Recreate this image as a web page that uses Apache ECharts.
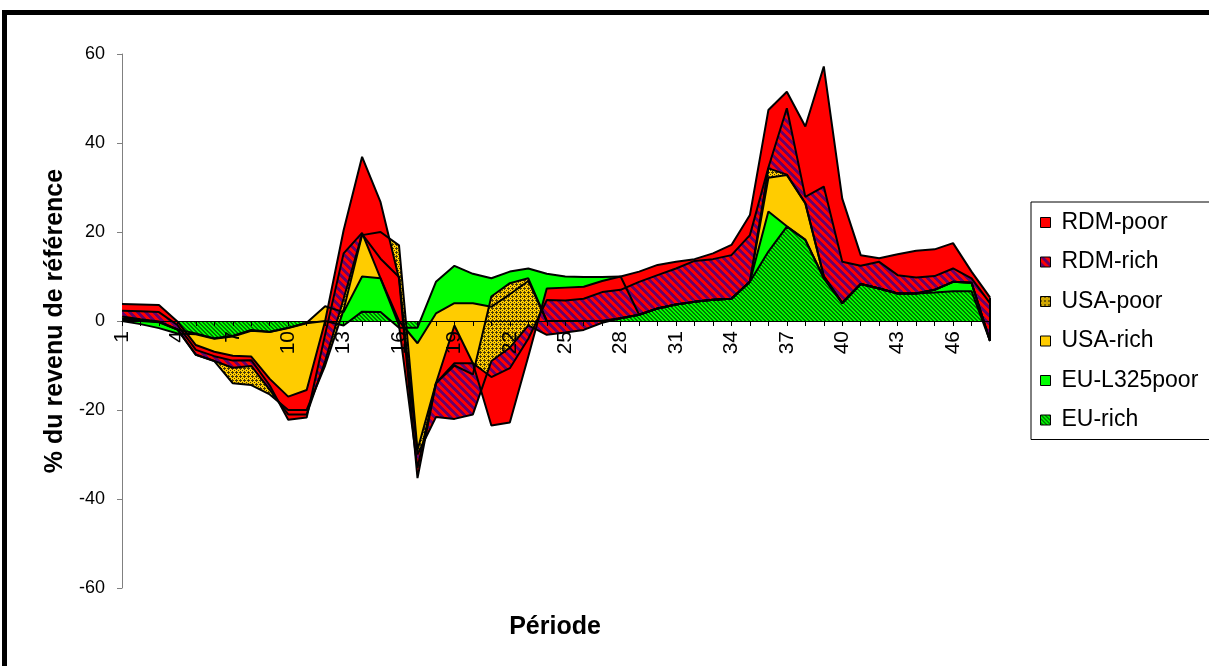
<!DOCTYPE html>
<html><head><meta charset="utf-8">
<script src="https://cdn.jsdelivr.net/npm/echarts@6/dist/echarts.min.js"></script>
<style>html,body{margin:0;padding:0;background:#fff}#c{width:1209px;height:666px}</style>
</head><body><div id="c"></div>
<script>
const categories = ['1','2','3','4','5','6','7','8','9','10','11','12','13','14','15','16','17','18','19','20','21','22','23','24','25','26','27','28','29','30','31','32','33','34','35','36','37','38','39','40','41','42','43','44','45','46','47','48'];
// Stacked series, bottom of stack first
const euRich = [0,-0.7,-1.6,-2.8,-3.0,-4.0,-3.5,-2.2,-2.5,-1.6,-0.5,0,-1,2.1,2.0,-1.5,-1.5,8.8,12.4,10.6,9.6,11.1,11.8,10.6,10.0,9.9,9.9,10.0,1.4,2.8,3.7,4.3,4.8,5.0,8.8,15.6,21.2,18.2,9.6,4.0,8.3,7.3,6.2,6.2,6.4,6.7,6.7,-4.5];
const euL325poor = [0.3,0.7,1.3,0.9,0.2,0.1,0.2,0.2,0.1,0.1,0.1,3.3,3.0,7.9,7.6,1.5,-3.5,-7.1,-8.4,-6.6,-6.4,-5.1,-2.8,-10.6,-10.0,-9.9,-9.9,-9.4,0,0,0,0,0,0,0,9.0,0.1,0.1,0.1,0,0,0,0,0,0.6,2.1,1.9,0];
const usaRich = [0.3,0.2,0.1,0,-4.8,-5.1,-10.7,-12.4,-14.1,-18.5,-19.6,-13.3,0.5,9.3,10.4,17,-24,-15.7,-14,-16,2.3,2.5,0.6,0,0,0,0,0,0,0,0,0,0,0,0,7.6,11.5,8.1,0.3,0.1,0,0,0,0,0,0,0,0];
const usaPoor = [0.4,0.2,0.1,0,0,0,3.5,4.3,1.0,-1,-1,1,2.5,0.2,-6,-7.1,-1,-7.6,-12,-9,-14.5,-14.5,-10.6,-3.1,-2.6,-2,-0.4,0,0,0,0,0,0,0,0,2.1,0.1,0.1,0.1,0,0,0,0,0,0,0,0,0];
const rdmRich = [1.3,1.8,2.1,1.0,1.1,1.1,1.6,1.3,1.0,-1.2,-0.7,6,10.2,0.3,-4.4,-10.9,-3,7.6,12.5,11.5,-3.6,-4.6,-3,7.8,7.2,7.0,6.9,6.4,7.4,7.5,8.1,9.2,9.1,9.8,10.5,0.2,14.9,1.4,20.1,9.2,4.1,6.0,4.1,3.6,3.1,3.0,1.0,8.5];
const rdmPoor = [1.5,1.5,1.6,0.8,1.1,1.0,1.1,0.8,1.5,5.2,6.2,3,5.2,17.1,17.1,10.5,-2.3,0,8.5,0,-10.9,-12.2,-4,2.6,2.9,2.7,2.5,3.0,2.3,2.3,1.5,0.4,1.3,2.3,4.5,12.9,3.7,15.8,27.0,14.2,2.4,0.8,4.7,6.0,6.0,5.7,1.5,1.3];
const legendOrder = ['RDM-poor','RDM-rich','USA-poor','USA-rich','EU-L325poor','EU-rich'];

const FONT = '"Liberation Sans", Arial, sans-serif';
function pattern(size, bg, fg, test) {
  const cv = document.createElement('canvas');
  cv.width = size; cv.height = size;
  const ctx = cv.getContext('2d');
  ctx.fillStyle = bg; ctx.fillRect(0, 0, size, size);
  ctx.fillStyle = fg;
  for (let y = 0; y < size; y++) for (let x = 0; x < size; x++) if (test(x, y)) ctx.fillRect(x, y, 1, 1);
  return { image: cv, repeat: 'repeat' };
}
const patRdmRich = pattern(8, '#ff0000', '#6a006a', (x, y) => ((x - y + 16) % 8) < 4);
const patUsaPoor = pattern(4, '#ffcc00', '#4a3c08', (x, y) => (x === 0 && y !== 2) || (y === 0 && x !== 2) || (x === 2 && y === 2));
const patEuRich = pattern(4, '#00ff00', '#007a00', (x, y) => ((x - y + 8) % 4) < 2);

const names = ['EU-rich','EU-L325poor','USA-rich','USA-poor','RDM-rich','RDM-poor'];
const datas = [euRich, euL325poor, usaRich, usaPoor, rdmRich, rdmPoor];
const fills = [patEuRich, '#00ff00', '#ffcc00', patUsaPoor, patRdmRich, '#ff0000'];

function fillSeries(i) {
  return { name: names[i], type: 'line', stack: 'fill', stackStrategy: 'all', data: datas[i],
    color: fills[i], symbol: 'none', showSymbol: false, lineStyle: { width: 0 },
    areaStyle: { opacity: 1 }, silent: true, animation: false, emphasis: { disabled: true } };
}
function edgeSeries(i) {
  return { name: 'edge' + i, type: 'line', stack: 'edge', stackStrategy: 'all', data: datas[i],
    symbol: 'none', showSymbol: false, lineStyle: { color: '#000', width: 2 },
    silent: true, animation: false, emphasis: { disabled: true } };
}
const series = [fillSeries(0), fillSeries(1), edgeSeries(0), fillSeries(2), edgeSeries(1), fillSeries(3), edgeSeries(2),
  fillSeries(4), edgeSeries(3), fillSeries(5), edgeSeries(4), edgeSeries(5)];

const chart = echarts.init(document.getElementById('c'), null, { renderer: 'canvas', width: 1209, height: 666 });
const baseGraphic = [
  { type: 'rect', shape: { x: 4.5, y: 12.5, width: 1400, height: 900 }, style: { fill: 'none', stroke: '#000', lineWidth: 5 }, silent: true, z: 100 },
  { type: 'text', x: 555, y: 627, style: { text: 'Période', font: 'bold 25px ' + FONT, fill: '#000', textAlign: 'center', textVerticalAlign: 'middle' }, silent: true }
];
chart.setOption({
  animation: false,
  backgroundColor: '#fff',
  textStyle: { fontFamily: FONT },
  grid: { left: 122, right: 219, top: 54, bottom: 78, containLabel: false },
  legend: {
    orient: 'vertical', left: 1031, top: 202, data: legendOrder,
    icon: 'rect', itemWidth: 10, itemHeight: 10, itemGap: 16.5,
    padding: [9, 30, 8, 9], borderColor: '#000', borderWidth: 1, backgroundColor: '#fff',
    itemStyle: { borderColor: '#000', borderWidth: 1 },
    textStyle: { fontSize: 23, color: '#000', fontFamily: FONT, lineHeight: 23, padding: [0, 0, 0, 6] },
    selectedMode: false
  },
  xAxis: {
    type: 'category', data: categories, boundaryGap: false, z: 10, offset: -267,
    axisLine: { onZero: false, lineStyle: { color: '#000', width: 1 } },
    axisTick: { show: true, interval: 0, length: 5, lineStyle: { color: '#000' } },
    axisLabel: { interval: 2, rotate: 90, fontSize: 21, color: '#000', margin: 10, fontFamily: FONT },
    splitLine: { show: false }
  },
  yAxis: {
    type: 'value', min: -60, max: 60, interval: 20,
    axisLine: { show: true, lineStyle: { color: '#808080', width: 1 } },
    axisTick: { show: true, length: 5, lineStyle: { color: '#808080' } },
    axisLabel: { fontSize: 18, color: '#000', margin: 17, fontFamily: FONT },
    splitLine: { show: false },
    name: '% du revenu de référence', nameLocation: 'middle', nameGap: 48,
    nameTextStyle: { fontSize: 25, fontWeight: 'bold', color: '#000', fontFamily: FONT }
  },
  graphic: baseGraphic,
  series: series
});
// closing edge of the stacked polygons at the last category, from the data through the chart's scales
const last = categories.length - 1;
let acc = 0, lo = 0, hi = 0;
datas.forEach(d => { acc += d[last]; lo = Math.min(lo, acc); hi = Math.max(hi, acc); });
const pLo = chart.convertToPixel({ xAxisIndex: 0, yAxisIndex: 0 }, [last, lo]);
const pHi = chart.convertToPixel({ xAxisIndex: 0, yAxisIndex: 0 }, [last, hi]);
chart.setOption({ graphic: baseGraphic.concat([
  { type: 'line', shape: { x1: pLo[0], y1: pLo[1], x2: pHi[0], y2: pHi[1] }, style: { stroke: '#000', lineWidth: 2 }, silent: true, z: 5 }
]) });
</script></body></html>
